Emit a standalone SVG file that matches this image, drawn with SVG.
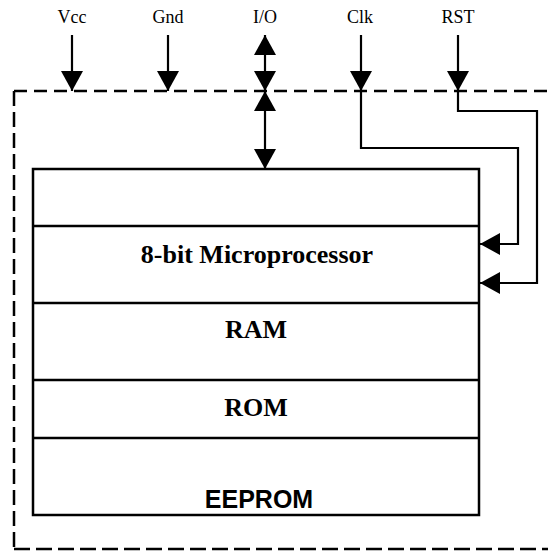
<svg xmlns="http://www.w3.org/2000/svg" width="548" height="553" viewBox="0 0 548 553">
<style>
  .bg { fill: #ffffff; }
  .dash { fill: none; stroke: #000; stroke-width: 2.5; }
  .box { fill: #fff; stroke: #000; stroke-width: 2.5; }
  .div { stroke: #000; stroke-width: 2.5; }
  .wire { fill: none; stroke: #000; stroke-width: 2.2; }
  .pin { font-family: "Liberation Serif", "Times New Roman", serif; font-size: 18px; fill: #000; text-anchor: middle; }
  .blk { font-family: "Liberation Serif", "Times New Roman", serif; font-size: 26px; font-weight: bold; fill: #000; text-anchor: middle; }
  .blks { font-family: "Liberation Sans", Arial, sans-serif; font-size: 25px; font-weight: bold; fill: #000; text-anchor: middle; }
</style>
<defs>
  <marker id="ah" viewBox="0 0 20 22" markerWidth="20" markerHeight="22" refX="20" refY="11" markerUnits="userSpaceOnUse" orient="auto-start-reverse">
    <path d="M0,0 L20,11 L0,22 z" fill="#000"/>
  </marker>
</defs>
<rect class="bg" x="0" y="0" width="548" height="553"/>

<g id="boundary">
  <line class="dash" x1="14" y1="91" x2="548" y2="91" stroke-dasharray="13 7"/>
  <line class="dash" x1="14" y1="91" x2="14" y2="549" stroke-dasharray="15 6"/>
  <line class="dash" x1="14" y1="549" x2="548" y2="549" stroke-dasharray="16 6"/>
</g>

<g id="pin-labels">
  <text class="pin" x="72" y="23">Vcc</text>
  <text class="pin" x="168" y="23">Gnd</text>
  <text class="pin" x="265" y="23">I/O</text>
  <text class="pin" x="360" y="23">Clk</text>
  <text class="pin" x="458" y="23">RST</text>
</g>

<g id="chip">
  <rect class="box" x="33" y="169" width="446" height="346"/>
</g>
<g id="block-top">
  <rect x="33" y="169" width="446" height="57" fill="none"/>
</g>
<g id="microprocessor">
  <line class="div" x1="33" y1="226" x2="479" y2="226"/>
  <text class="blk" x="257" y="263" font-size="26.8">8-bit Microprocessor</text>
</g>
<g id="ram">
  <line class="div" x1="33" y1="303" x2="479" y2="303"/>
  <text class="blk" x="256" y="338">RAM</text>
</g>
<g id="rom">
  <line class="div" x1="33" y1="380" x2="479" y2="380"/>
  <text class="blk" x="256" y="416">ROM</text>
</g>
<g id="eeprom">
  <line class="div" x1="33" y1="438" x2="479" y2="438"/>
  <text class="blks" x="259" y="508">EEPROM</text>
</g>

<g id="connectors">
  <line class="wire" x1="72" y1="35" x2="72" y2="91" marker-end="url(#ah)"/>
  <line class="wire" x1="168" y1="35" x2="168" y2="91" marker-end="url(#ah)"/>
  <line class="wire" x1="265" y1="35" x2="265" y2="91" marker-start="url(#ah)" marker-end="url(#ah)"/>
  <line class="wire" x1="265" y1="91" x2="265" y2="169" marker-start="url(#ah)" marker-end="url(#ah)"/>
  <line class="wire" x1="361" y1="35" x2="361" y2="91" marker-end="url(#ah)"/>
  <line class="wire" x1="458" y1="35" x2="458" y2="91" marker-end="url(#ah)"/>
  <polyline class="wire" points="361,91 361,148 518,148 518,244 480,244" marker-end="url(#ah)"/>
  <polyline class="wire" points="458,91 458,111 537,111 537,283 480,283" marker-end="url(#ah)"/>
</g>
</svg>
